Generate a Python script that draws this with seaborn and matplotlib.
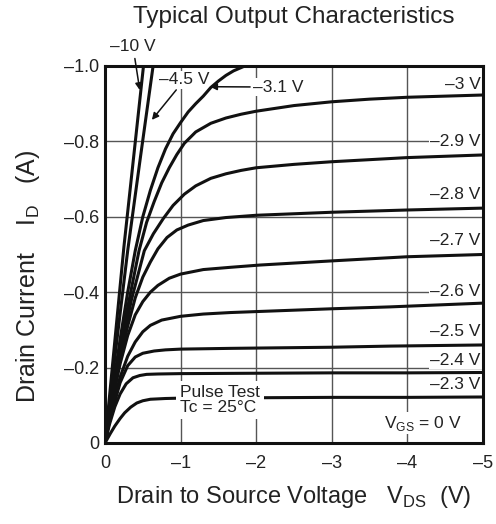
import seaborn as sns
import matplotlib.pyplot as plt
import pandas as pd

# curves (V_DS in V, I_D in A)
vds_10 = [0, -0.25, -0.52]
id_10 = [0, -0.52, -1.02]
vds_45 = [0, -0.15, -0.3, -0.47, -0.65]
id_45 = [0, -0.26, -0.51, -0.76, -1.02]
vds_31 = [0, -0.1, -0.2, -0.3, -0.4, -0.5, -0.6, -0.7, -0.8, -0.9, -1.0, -1.1,
          -1.2, -1.3, -1.4, -1.5, -1.6, -1.7, -1.85]
id_31 = [0, -0.14, -0.275, -0.4, -0.51, -0.6, -0.67, -0.73, -0.78, -0.82, -0.85,
         -0.878, -0.9, -0.92, -0.943, -0.96, -0.975, -0.987, -1.0]
vds_30 = [0, -0.1, -0.2, -0.3, -0.45, -0.55, -0.65, -0.75, -0.85, -0.95, -1.05,
          -1.2, -1.4, -1.6, -1.8, -2.0, -2.5, -3.0, -3.5, -4.0, -4.5, -5.0]
id_30 = [0, -0.13, -0.25, -0.36, -0.51, -0.585, -0.64, -0.69, -0.73, -0.765,
         -0.795, -0.825, -0.848, -0.862, -0.872, -0.88, -0.895, -0.905, -0.912,
         -0.917, -0.92, -0.923]
vds_29 = [0, -0.1, -0.2, -0.35, -0.52, -0.64, -0.77, -0.9, -1.05, -1.2, -1.4,
          -1.6, -1.8, -2.0, -2.5, -3.0, -4.0, -5.0]
id_29 = [0, -0.12, -0.235, -0.38, -0.51, -0.555, -0.595, -0.63, -0.66, -0.682,
         -0.702, -0.714, -0.723, -0.73, -0.739, -0.746, -0.757, -0.764]
vds_28 = [0, -0.1, -0.2, -0.3, -0.4, -0.5, -0.6, -0.7, -0.82, -0.95, -1.1, -1.3,
          -1.6, -2.0, -3.0, -4.0, -5.0]
id_28 = [0, -0.115, -0.225, -0.31, -0.385, -0.44, -0.48, -0.515, -0.545, -0.565,
         -0.578, -0.59, -0.598, -0.604, -0.612, -0.618, -0.623]
vds_27 = [0, -0.1, -0.2, -0.3, -0.4, -0.5, -0.6, -0.7, -0.85, -1.0, -1.3, -1.66,
          -2.05, -3.0, -4.0, -5.0]
id_27 = [0, -0.115, -0.21, -0.285, -0.34, -0.375, -0.4, -0.418, -0.437, -0.448,
         -0.46, -0.466, -0.472, -0.483, -0.494, -0.5]
vds_26 = [0, -0.1, -0.2, -0.3, -0.4, -0.5, -0.6, -0.75, -1.0, -1.3, -1.66, -3.0,
          -3.77, -5.0]
id_26 = [0, -0.1, -0.175, -0.23, -0.268, -0.295, -0.312, -0.326, -0.336, -0.342,
         -0.346, -0.356, -0.361, -0.371]
vds_25 = [0, -0.05, -0.11, -0.2, -0.3, -0.4, -0.5, -0.65, -0.8, -1.0, -1.66,
          -3.0, -3.77, -5.0]
id_25 = [0, -0.05, -0.095, -0.16, -0.205, -0.228, -0.238, -0.244, -0.247,
         -0.249, -0.251, -0.254, -0.257, -0.26]
vds_24 = [0, -0.06, -0.13, -0.2, -0.28, -0.37, -0.46, -0.55, -0.7, -1.0, -2.0,
          -3.0, -4.0, -5.0]
id_24 = [0, -0.05, -0.096, -0.13, -0.157, -0.173, -0.179, -0.182, -0.183,
         -0.184, -0.185, -0.186, -0.186, -0.187]
vds_23 = [0, -0.07, -0.13, -0.2, -0.26, -0.34, -0.42, -0.5, -0.6, -0.8, -1.0,
          -2.0, -3.0, -4.0, -5.0]
id_23 = [0, -0.025, -0.045, -0.065, -0.08, -0.095, -0.106, -0.112, -0.116,
         -0.118, -0.119, -0.12, -0.121, -0.121, -0.122]

vgs_labels = ['–10 V', '–4.5 V', '–3.1 V', '–3 V', '–2.9 V', '–2.8 V',
              '–2.7 V', '–2.6 V', '–2.5 V', '–2.4 V', '–2.3 V']
x_ticks = [0, -1, -2, -3, -4, -5]
x_ticklabels = ['0', '–1', '–2', '–3', '–4', '–5']
y_ticks = [0, -0.2, -0.4, -0.6, -0.8, -1.0]
y_ticklabels = ['0', '–0.2', '–0.4', '–0.6', '–0.8', '–1.0']

curves = [(vds_10, id_10), (vds_45, id_45), (vds_31, id_31), (vds_30, id_30),
          (vds_29, id_29), (vds_28, id_28), (vds_27, id_27), (vds_26, id_26),
          (vds_25, id_25), (vds_24, id_24), (vds_23, id_23)]

rows = []
for lab, (vx, iy) in zip(vgs_labels, curves):
    for v, i in zip(vx, iy):
        rows.append({'vgs': lab, 'vds': v, 'id': i})
df = pd.DataFrame(rows)

sns.set_theme(style='white')
plt.rcParams['font.family'] = ['Liberation Sans', 'DejaVu Sans']
plt.rcParams['mathtext.fontset'] = 'custom'
plt.rcParams['mathtext.rm'] = 'Liberation Sans'

fig = plt.figure(figsize=(4.96, 5.24), dpi=100)
ax = fig.add_axes([0.2117, 0.1546, 0.7621, 0.7195])

sns.lineplot(data=df, x='vds', y='id', units='vgs', estimator=None, sort=False,
             color='#111111', linewidth=2.2, ax=ax, zorder=3,
             solid_joinstyle='round', solid_capstyle='round')

ax.set_xlim(0, -5)
ax.set_ylim(0, -1.0)
ax.set_xticks(x_ticks)
ax.set_xticklabels(x_ticklabels)
ax.set_yticks(y_ticks)
ax.set_yticklabels(y_ticklabels)
ax.tick_params(length=0, labelsize=13, colors='#222222')
ax.tick_params(axis='x', pad=9)
ax.tick_params(axis='y', pad=4)
ax.set_axisbelow(True)
ax.grid(True, color='#555555', linewidth=1.0)
for sp in ax.spines.values():
    sp.set_color('#111111')
    sp.set_linewidth(2.2)
ax.set_xlabel('')
ax.set_ylabel('')

fig.text(0.593, 0.967, 'Typical Output Characteristics', ha='center', va='center',
         fontsize=17.5, color='#222222')
fig.text(0.593, 0.052, r'Drain to Source Voltage   V$_\mathregular{DS}$  (V)',
         ha='center', va='center', fontsize=17, color='#222222')
fig.text(0.056, 0.473, r'Drain Current    I$_\mathregular{D}$   (A)', rotation=90,
         ha='center', va='center', fontsize=18, color='#222222')

box = dict(facecolor='white', edgecolor='none', pad=1.0)

# right-hand gate voltage labels
right_labels = ['–3 V', '–2.9 V', '–2.8 V', '–2.7 V', '–2.6 V', '–2.5 V', '–2.4 V', '–2.3 V']
right_y = [-0.95, -0.80, -0.658, -0.538, -0.403, -0.295, -0.22, -0.154]
for lab, yy in zip(right_labels, right_y):
    ax.text(-4.97, yy, lab, ha='right', va='center', fontsize=12.5,
            color='#222222', bbox=box, zorder=2)

arrow = dict(arrowstyle='-|>', color='#111111', lw=1.1, mutation_scale=10,
             shrinkA=1, shrinkB=0)
ax.annotate('–10 V', xy=(-0.46, -0.936), xytext=(-0.37, -1.052), ha='center',
            va='center', fontsize=12.5, color='#222222', arrowprops=arrow,
            annotation_clip=False, zorder=4)
ax.annotate('–4.5 V', xy=(-0.62, -0.857), xytext=(-1.05, -0.963), ha='center',
            va='center', fontsize=12.5, color='#222222', arrowprops=arrow,
            bbox=box, zorder=2)
ax.annotate('–3.1 V', xy=(-1.39, -0.945), xytext=(-2.29, -0.944), ha='center',
            va='center', fontsize=12.5, color='#222222', arrowprops=arrow,
            bbox=box, zorder=2)

ax.text(-0.99, -0.114, 'Pulse Test\nTc = 25°C', ha='left', va='center',
        fontsize=12.5, color='#222222', linespacing=1.0,
        bbox=dict(facecolor='white', edgecolor='none', pad=3), zorder=5)
ax.text(-4.2, -0.053, r'V$_\mathregular{GS}$ = 0 V', ha='center', va='center',
        fontsize=12.5, color='#222222', bbox=box, zorder=2)

fig.savefig('out.png', dpi=100)
